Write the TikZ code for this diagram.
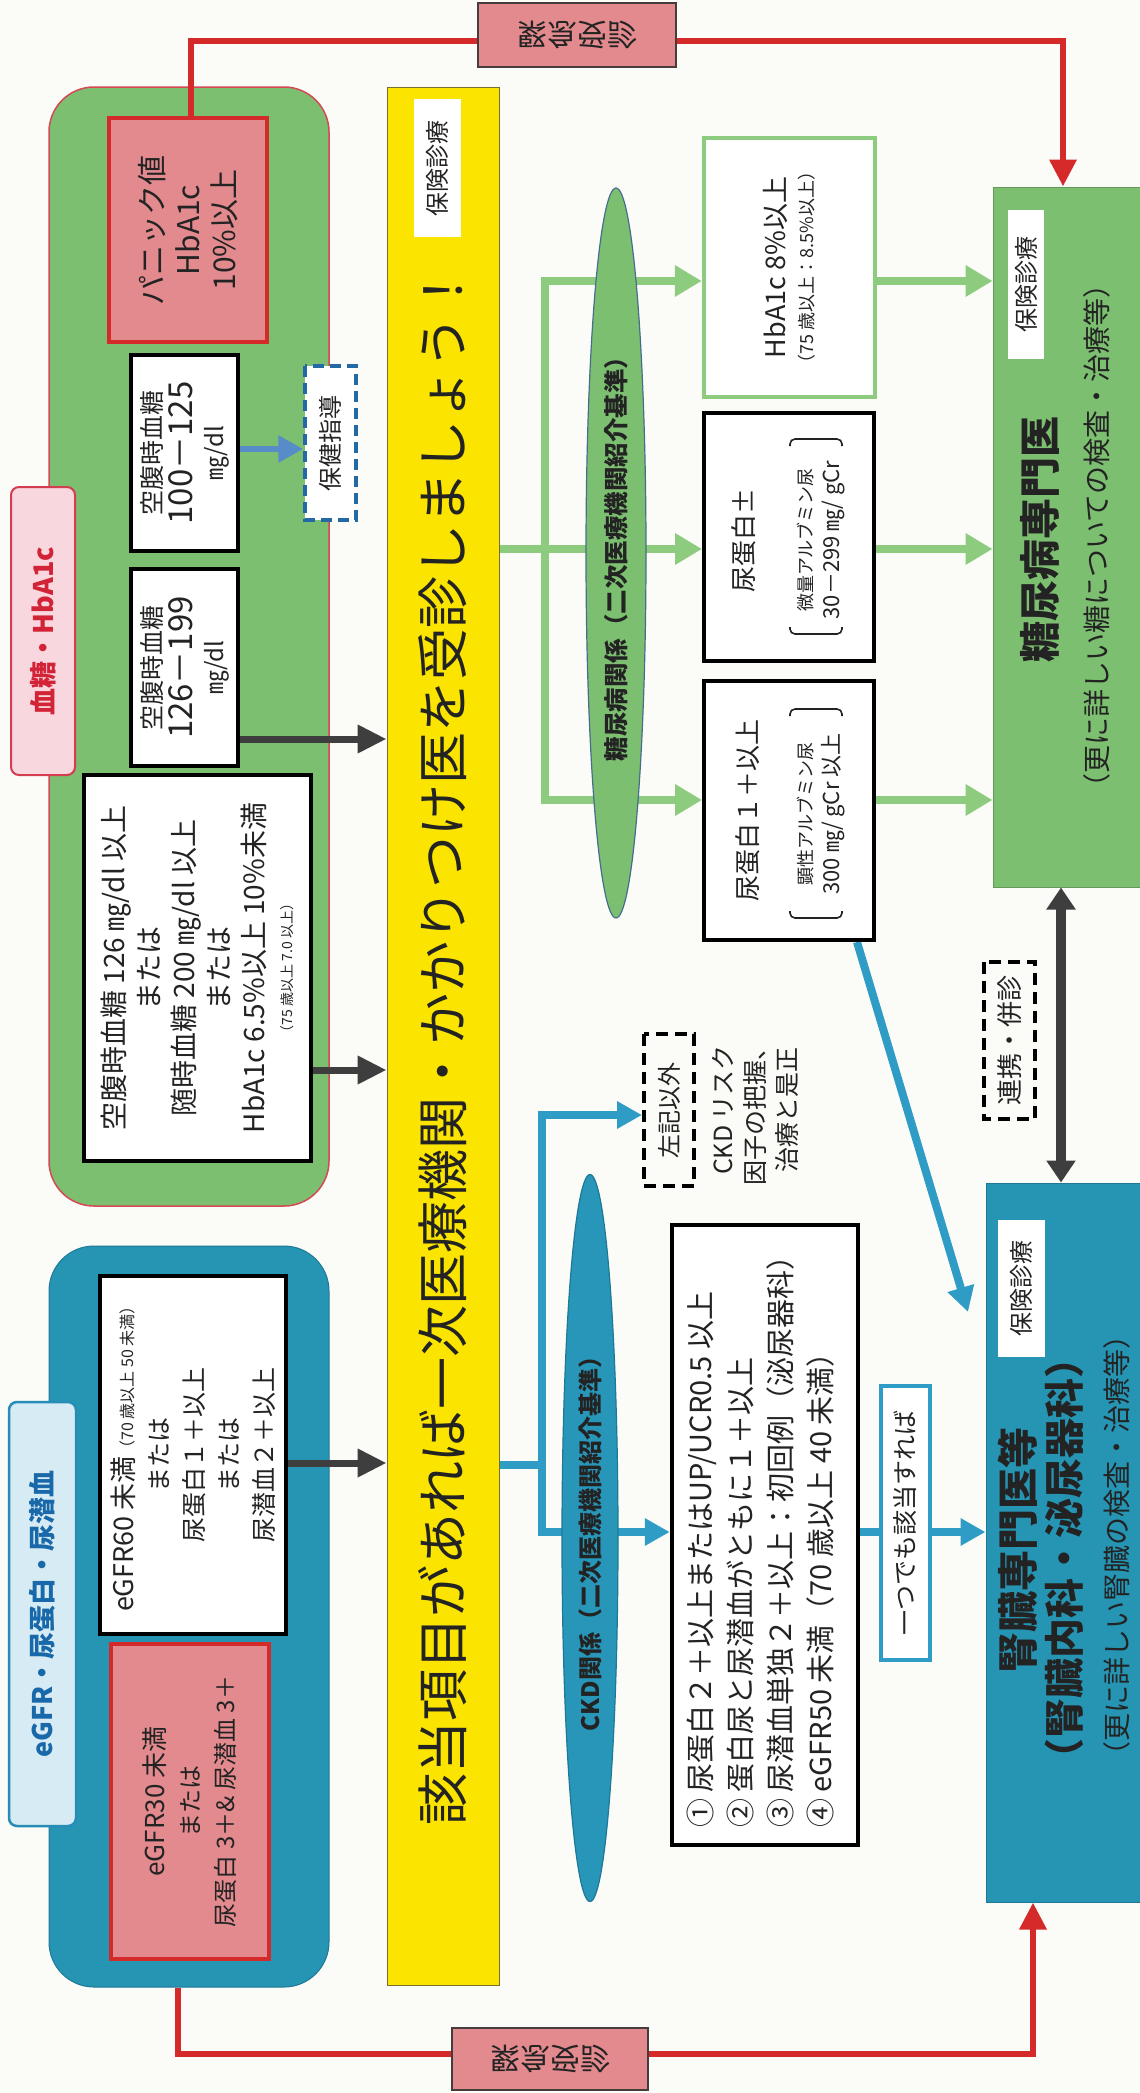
\documentclass[tikz,border=0pt]{standalone}
\usepackage{fontspec}
\usepackage{graphicx}
\setmainfont{Noto Sans CJK JP}
\usetikzlibrary{shapes.geometric,arrows.meta}
\pgfdeclarelayer{back}
\pgfdeclarelayer{lines}
\pgfsetlayers{back,lines,main}
\definecolor{bgc}{RGB}{251,251,248}
\definecolor{grp}{RGB}{125,191,113}
\definecolor{gbord}{RGB}{214,72,84}
\definecolor{gcol}{RGB}{141,204,127}
\definecolor{tealA}{RGB}{38,149,180}
\definecolor{tealD}{RGB}{30,120,150}
\definecolor{tcol}{RGB}{46,156,196}
\definecolor{pinkA}{RGB}{226,138,142}
\definecolor{redA}{RGB}{213,42,42}
\definecolor{eab}{RGB}{70,60,60}
\definecolor{yel}{RGB}{250,228,0}
\definecolor{yb}{RGB}{120,110,50}
\definecolor{dkc}{RGB}{62,62,62}
\definecolor{bluA}{RGB}{88,140,200}
\definecolor{hkc}{RGB}{35,105,165}
\definecolor{txt}{RGB}{35,35,35}
\definecolor{tgb}{RGB}{212,60,80}
\definecolor{tgf}{RGB}{248,215,222}
\definecolor{tgt}{RGB}{210,35,55}
\definecolor{tbb}{RGB}{40,140,185}
\definecolor{tbf}{RGB}{214,235,243}
\definecolor{tbt}{RGB}{25,105,170}
\definecolor{egb}{RGB}{70,110,140}
\definecolor{tealE}{RGB}{40,150,185}
\newcommand\fz[2]{\fontsize{#1}{#2}\selectfont\lineskiplimit=-100pt\relax}
\begin{document}
\begin{tikzpicture}[x=1pt,y=-1pt,
  rbox/.style={rotate=90, inner sep=0pt, align=center, text=txt},
  wbox/.style={rbox, draw=black, line width=4pt, fill=white},
  ins/.style={rbox, fill=white, font=\fz{24}{28}},
  dashbox/.style={rbox, draw=black, dash pattern=on 12pt off 7pt, line width=4pt, fill=bgc},
  rl/.style={draw=redA, line width=6.5pt},
  rla/.style={rl, -{Triangle[length=27pt,width=26pt]}},
  gln/.style={draw=gcol, line width=8pt, line cap=rect},
  gl/.style={draw=gcol, line width=8pt, -{Triangle[length=27pt,width=30pt]}},
  tln/.style={draw=tcol, line width=8pt, line cap=rect},
  tl/.style={draw=tcol, line width=8pt, -{Triangle[length=25pt,width=26pt]}},
  dka/.style={draw=dkc, line width=7pt, -{Triangle[length=29pt,width=27pt]}},
  dkd/.style={draw=dkc, line width=10pt, {Triangle[length=22pt,width=28pt]}-{Triangle[length=22pt,width=28pt]}},
  bla/.style={draw=bluA, line width=6pt, -{Triangle[length=25pt,width=26pt]}},
  brk/.style={draw=txt, line width=1.6pt, rounded corners=5pt}]
\useasboundingbox (0,0) rectangle (1140,2093);

% group backgrounds
\begin{pgfonlayer}{back}
\fill[bgc] (0,0) rectangle (1140,2093);
\node[rotate=90, draw=gbord, line width=1.5pt, fill=grp, rounded corners=45pt, minimum width=1119pt, minimum height=280pt, inner sep=0pt] (G) at (189,646.5) {};
\node[rotate=90, draw=tealD, line width=1pt, fill=tealA, rounded corners=45pt, minimum width=741pt, minimum height=280pt, inner sep=0pt] (B) at (189,1616.5) {};
\end{pgfonlayer}

% tabs
\node[rbox, draw=tgb, line width=2pt, fill=tgf, rounded corners=8pt, minimum width=288pt, minimum height=64pt, font=\bfseries\fz{27}{30}, text=tgt] (TG) at (43,631) {血糖・HbA1c};
\node[rbox, draw=tbb, line width=2.5pt, fill=tbf, rounded corners=8pt, minimum width=424pt, minimum height=67pt, font=\bfseries\fz{27}{30}, text=tbt] (TB) at (42.5,1614) {eGFR・尿蛋白・尿潜血};

% glucose group
\node[rbox, draw=redA, line width=4pt, fill=pinkA, minimum width=224pt, minimum height=158pt, font=\fz{30}{36}] (panic) at (188,230) {パニック値\\HbA1c\\10\%以上};
\node[wbox, minimum width=196pt, minimum height=107pt, font=\fz{25}{31}] (fbs1) at (184.5,453) {空腹時血糖\\{\fz{33}{31}100－125}\\{\fz{24}{31}㎎/dl}};
\node[rbox, draw=hkc, dash pattern=on 11pt off 6pt, line width=3.5pt, fill=white, minimum width=154pt, minimum height=51pt, font=\fz{24}{28}] (hk) at (330.5,443) {保健指導};
\node[wbox, minimum width=197pt, minimum height=107pt, font=\fz{25}{31}] (fbs2) at (184.5,667.5) {空腹時血糖\\{\fz{33}{31}126－199}\\{\fz{24}{31}㎎/dl}};
\node[wbox, minimum width=386pt, minimum height=227pt, font=\fz{28}{35}] (dm) at (197.5,968) {空腹時血糖 126 ㎎/dl 以上\\または\\随時血糖 200 ㎎/dl 以上\\または\\HbA1c 6.5\%以上 10\%未満\\[-7pt]{\fz{14}{35}（75 歳以上 7.0 以上）}};

% eGFR group
\node[wbox, minimum width=358pt, minimum height=186pt, font=\fz{25}{35}] (egfr60) at (193,1455) {{\fz{27}{35}eGFR60 未満}{\fz{16}{35}（70 歳以上 50 未満）}\\または\\尿蛋白１＋以上\\または\\尿潜血２＋以上};
\node[rbox, draw=redA, line width=4pt, fill=pinkA, minimum width=315pt, minimum height=158pt, font=\fz{24}{35}] (egfr30) at (190,1801.5) {{\fz{26}{35}eGFR30 未満}\\または\\尿蛋白 3＋\& 尿潜血 3＋};

% yellow bar
\node[rbox, draw=yb, line width=1pt, fill=yel, minimum width=1898pt, minimum height=112pt] (Y) at (443,1036) {};
\node[rbox, font=\fz{52}{60}] (Yt) at (443,1045) {該当項目があれば一次医療機関・かかりつけ医を受診しましょう！};
\node[ins, minimum width=138pt, minimum height=47pt] (Yins) at (437.5,168) {保険診療};

% ellipses
\node[ellipse, rotate=90, draw=egb, line width=1.2pt, fill=grp, minimum width=730pt, minimum height=60pt, inner sep=0pt, font=\bfseries\fz{24.5}{28}, text=txt] (EG) at (616,553) {糖尿病関係（二次医療機関紹介基準）};
\node[ellipse, rotate=90, draw=tealD, line width=1.2pt, fill=tealE, minimum width=727pt, minimum height=56pt, inner sep=0pt, font=\bfseries\fz{24}{28}, text=txt] (EC) at (590,1538) {CKD関係（二次医療機関紹介基準）};

% diabetes criteria boxes
\node[rbox, draw=gcol, line width=4.5pt, fill=white, minimum width=259pt, minimum height=171pt, font=\fz{27}{28}] (H8) at (789.5,267.5) {HbA1c 8\%以上\\{\fz{18}{28}（75 歳以上：8.5\%以上）}};
\node[wbox, minimum width=248pt, minimum height=170pt] (UP1) at (789,537) {};
\node[rbox, font=\fz{26}{30}] (UP1a) at (744,540) {尿蛋白±};
\node[rbox, font=\fz{18}{27}] (UP1b) at (821.5,540) {微量アルブミン尿\\{\fz{22}{27}30－299 ㎎/ gCr}};
\draw[brk] (790,627) -- (790,634) -- (842,634) -- (842,627);
\draw[brk] (790,446) -- (790,439) -- (842,439) -- (842,446);
\node[wbox, minimum width=259pt, minimum height=170pt] (UP2) at (789,810.5) {};
\node[rbox, font=\fz{26}{30}] (UP2a) at (748,810.5) {尿蛋白１＋以上};
\node[rbox, font=\fz{18}{27}] (UP2b) at (821.5,814) {顕性アルブミン尿\\{\fz{22}{27}300 ㎎/ gCr 以上}};
\draw[brk] (790,911) -- (790,918) -- (842,918) -- (842,911);
\draw[brk] (790,716) -- (790,709) -- (842,709) -- (842,716);

% diabetes specialist
\node[rbox, draw=grp!80!black, line width=1pt, fill=grp, minimum width=700pt, minimum height=153pt] (GS) at (1069.5,537) {};
\node[ins, minimum width=149pt, minimum height=36pt] (GSins) at (1026,284.5) {保険診療};
\node[rbox, font=\bfseries\fz{41}{46}] (GSt) at (1040,539) {糖尿病専門医};
\node[rbox, font=\fz{28}{32}] (GSs) at (1097,536) {（更に詳しい糖についての検査・治療等）};

% kidney specialist
\node[rbox, draw=tealD, line width=1pt, fill=tealA, minimum width=719pt, minimum height=160pt] (KS) at (1066,1542.5) {};
\node[ins, minimum width=137pt, minimum height=47pt] (KSins) at (1021.5,1288.5) {保険診療};
\node[rbox, font=\bfseries\fz{41}{46}] (KSt) at (1018,1550) {腎臓専門医等};
\node[rbox, font=\bfseries\fz{40}{46}] (KSs) at (1064,1558) {（腎臓内科・泌尿器科）};
\node[rbox, font=\fz{28}{32}] (KSn) at (1117,1545) {（更に詳しい腎臓の検査・治療等）};

\node[dashbox, minimum width=157pt, minimum height=51pt, font=\fz{26}{30}] (RK) at (1009.5,1040.5) {連携・併診};

% CKD
\node[wbox, line width=4.5pt, minimum width=620pt, minimum height=186pt] (CL) at (765,1535) {};
\node[rbox, anchor=west, align=left, font=\fz{29}{40}] (CLt) at (761,1828) {① 尿蛋白２＋以上またはUP/UCR0.5 以上\\② 蛋白尿と尿潜血がともに１＋以上\\③ 尿潜血単独２＋以上：初回例（泌尿器科）\\④ eGFR50 未満（70 歳以上 40 未満）};
\node[rbox, draw=tcol, line width=3.5pt, fill=white, minimum width=274pt, minimum height=49pt, font=\fz{25}{28}] (OB) at (905.5,1523) {一つでも該当すれば};
\node[dashbox, minimum width=152pt, minimum height=50pt, font=\fz{24}{28}] (SK) at (669,1110) {左記以外};
\node[rbox, font=\fz{25}{32}] (CR) at (755,1110) {CKD リスク\\因子の把握、\\治療と是正};

% emergency boxes
\node[draw=eab, line width=2.5pt, fill=pinkA, minimum width=198pt, minimum height=64pt, inner sep=0pt, font=\fz{30}{34}, text=txt] (EA) at (577,35) {\scalebox{1}[-1]{緊急受診}};
\node[draw=eab, line width=2.5pt, fill=pinkA, minimum width=196pt, minimum height=62pt, inner sep=0pt, font=\fz{30}{34}, text=txt] (EB) at (550,2059) {\scalebox{1}[-1]{緊急受診}};

% coordinates
\coordinate (gj1) at (545,281);
\coordinate (gj2) at (545,800);
\coordinate (tj0) at (542,1465);
\coordinate (tj1) at (542,1115);
\coordinate (tj2) at (542,1532);
\coordinate (dtip) at (968,1312);

\begin{pgfonlayer}{lines}
% red emergency lines
\draw[rl] (panic.east -| 191,0) |- (EA.west |- 0,41);
\draw[rla] (EA.east |- 0,41) -| (GS.east -| 1063,0);
\draw[rl] (B.west -| 178,0) |- (EB.west |- 0,2054);
\draw[rla] (EB.east |- 0,2054) -| (KS.west -| 1033,0);
% dark arrows to yellow bar
\draw[dka] (fbs2.south |- 0,739) -- (Y.north |- 0,739);
\draw[dka] (dm.south |- 0,1070) -- (Y.north |- 0,1070);
\draw[dka] (egfr60.south |- 0,1463) -- (Y.north |- 0,1463);
\draw[bla] (fbs1.south |- 0,449) -- (hk.north |- 0,449);
% green
\draw[gl] (Y.south |- 0,549) -- (UP1.north |- 0,549);
\draw[gln] (gj1) -- (gj2);
\draw[gl] (gj1) -- (H8.north |- gj1);
\draw[gl] (gj2) -- (UP2.north |- gj2);
\draw[gl] (H8.south |- gj1) -- (GS.north |- gj1);
\draw[gl] (UP1.south |- 0,549) -- (GS.north |- 0,549);
\draw[gl] (UP2.south |- gj2) -- (GS.north |- gj2);
% teal
\draw[tln] (Y.south |- tj0) -- (tj0);
\draw[tln] (tj1) -- (tj2);
\draw[tl] (tj1) -- (SK.north |- tj1);
\draw[tl] (tj2) -- (CL.north |- tj2);
\draw[tl] (CL.south |- tj2) -- (KS.north |- tj2);
\draw[tl] (UP2.west -| 857,0) -- (dtip);
% cooperation
\draw[dkd] (GS.west -| 1061,0) -- (KS.east -| 1061,0);
\end{pgfonlayer}
\end{tikzpicture}
\end{document}
